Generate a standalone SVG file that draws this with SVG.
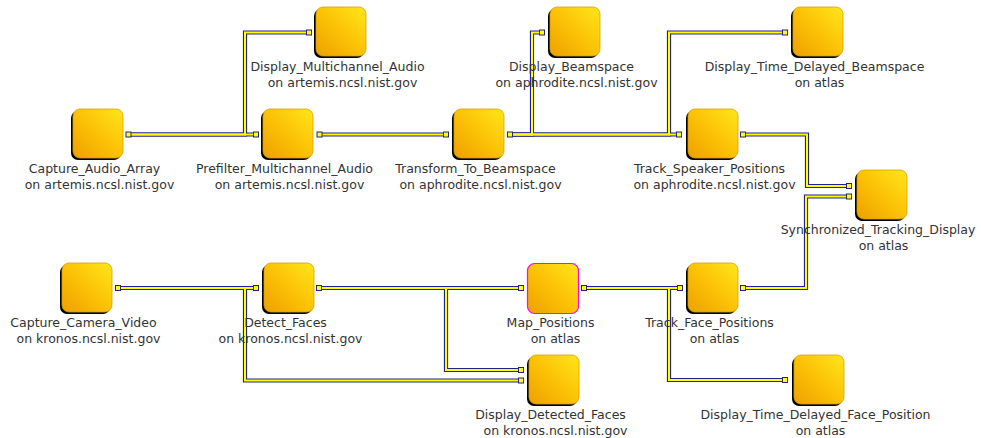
<svg xmlns="http://www.w3.org/2000/svg" xmlns:xlink="http://www.w3.org/1999/xlink" width="981" height="438" viewBox="0 0 981 438">
<style>
.bg{fill:#ffffff}
.sh{fill:#000000}
.body{fill:url(#gold);stroke:#d9a000;stroke-width:0.8}
.sel{fill:url(#gold);stroke:#ff00ff;stroke-width:1.2}
.lbl{font-family:"DejaVu Sans",sans-serif;font-size:12.5px;fill:#333333;text-anchor:middle}
.wo{fill:none;stroke:#22228a;stroke-width:4.2;stroke-linejoin:miter}
.wi{fill:none;stroke:#ffff00;stroke-width:2;stroke-linejoin:miter}
.port{fill:#ffff00;stroke:#22228a;stroke-width:1}
</style>
<defs>
<linearGradient id="gold" x1="1" y1="0" x2="0" y2="1">
<stop offset="0" stop-color="#ffe61a"/>
<stop offset="0.5" stop-color="#fcc206"/>
<stop offset="1" stop-color="#eea000"/>
</linearGradient>
<g id="box">
<rect class="sh" x="0" y="2" width="50" height="49" rx="7"/>
<rect class="body" x="2" y="0" width="50" height="49" rx="7"/>
</g>
<path id="cA" d="M131,134.5H253.5"/>
<path id="cB" d="M131,134.5H245V32.5H306.5"/>
<path id="cC" d="M322,134.5H443.5"/>
<path id="cD" d="M512.5,134.5H676.5"/>
<path id="cE" d="M512.5,134.5H532V32.5H539.5"/>
<path id="cF" d="M512.5,134.5H669V32.5H782.5"/>
<path id="cG" d="M745.5,134.5H807V186H846.5"/>
<path id="cH" d="M745.5,288H806V196.5H846.5"/>
<path id="cI" d="M120.5,288H253.5"/>
<path id="cJ" d="M120.5,288H245V380.5H518.5"/>
<path id="cK" d="M321.5,288H518.5"/>
<path id="cL" d="M321.5,288H446V370H518.5"/>
<path id="cM" d="M586.5,288H677.5"/>
<path id="cN" d="M586.5,288H669V380H782.5"/>
</defs>
<rect class="bg" x="0" y="0" width="981" height="438"/>
<g id="connectors">
<g class="wo">
<use xlink:href="#cA"/><use xlink:href="#cB"/><use xlink:href="#cC"/><use xlink:href="#cD"/><use xlink:href="#cE"/><use xlink:href="#cF"/><use xlink:href="#cG"/><use xlink:href="#cH"/><use xlink:href="#cI"/><use xlink:href="#cJ"/><use xlink:href="#cK"/><use xlink:href="#cL"/><use xlink:href="#cM"/><use xlink:href="#cN"/>
</g>
<g class="wi">
<use xlink:href="#cA"/><use xlink:href="#cB"/><use xlink:href="#cC"/><use xlink:href="#cD"/><use xlink:href="#cE"/><use xlink:href="#cF"/><use xlink:href="#cG"/><use xlink:href="#cH"/><use xlink:href="#cI"/><use xlink:href="#cJ"/><use xlink:href="#cK"/><use xlink:href="#cL"/><use xlink:href="#cM"/><use xlink:href="#cN"/>
</g>
<g class="port">
<rect x="126" y="132" width="5" height="5"/>
<rect x="253.5" y="132" width="5" height="5"/>
<rect x="317" y="132" width="5" height="5"/>
<rect x="306.5" y="30" width="5" height="5"/>
<rect x="443.5" y="132" width="5" height="5"/>
<rect x="507.5" y="132" width="5" height="5"/>
<rect x="539.5" y="30" width="5" height="5"/>
<rect x="782.5" y="30" width="5" height="5"/>
<rect x="676.5" y="132" width="5" height="5"/>
<rect x="740.5" y="132" width="5" height="5"/>
<rect x="846.5" y="183.5" width="5" height="5"/>
<rect x="846.5" y="194" width="5" height="5"/>
<rect x="115.5" y="285.5" width="5" height="5"/>
<rect x="253.5" y="285.5" width="5" height="5"/>
<rect x="316.5" y="285.5" width="5" height="5"/>
<rect x="518.5" y="285.5" width="5" height="5"/>
<rect x="581.5" y="285.5" width="5" height="5"/>
<rect x="677.5" y="285.5" width="5" height="5"/>
<rect x="740.5" y="285.5" width="5" height="5"/>
<rect x="518.5" y="367.5" width="5" height="5"/>
<rect x="518.5" y="378" width="5" height="5"/>
<rect x="782.5" y="377.5" width="5" height="5"/>
</g>
</g>
<g id="Capture_Audio_Array" transform="translate(71,109)">
<use xlink:href="#box"/>
<text class="lbl" x="23.5" y="64.3">Capture_Audio_Array</text>
<text class="lbl" x="28.5" y="80.3">on artemis.ncsl.nist.gov</text>
</g>
<g id="Prefilter_Multichannel_Audio" transform="translate(261,109)">
<use xlink:href="#box"/>
<text class="lbl" x="23.5" y="64.3">Prefilter_Multichannel_Audio</text>
<text class="lbl" x="28.5" y="80.3">on artemis.ncsl.nist.gov</text>
</g>
<g id="Display_Multichannel_Audio" transform="translate(314,7)">
<use xlink:href="#box"/>
<text class="lbl" x="23.5" y="64.3">Display_Multichannel_Audio</text>
<text class="lbl" x="28.5" y="80.3">on artemis.ncsl.nist.gov</text>
</g>
<g id="Transform_To_Beamspace" transform="translate(452,109)">
<use xlink:href="#box"/>
<text class="lbl" x="23.5" y="64.3">Transform_To_Beamspace</text>
<text class="lbl" x="28.5" y="80.3">on aphrodite.ncsl.nist.gov</text>
</g>
<g id="Display_Beamspace" transform="translate(548,7)">
<use xlink:href="#box"/>
<text class="lbl" x="23.5" y="64.3">Display_Beamspace</text>
<text class="lbl" x="28.5" y="80.3">on aphrodite.ncsl.nist.gov</text>
</g>
<g id="Display_Time_Delayed_Beamspace" transform="translate(791,7)">
<use xlink:href="#box"/>
<text class="lbl" x="23.5" y="64.3">Display_Time_Delayed_Beamspace</text>
<text class="lbl" x="28.5" y="80.3">on atlas</text>
</g>
<g id="Track_Speaker_Positions" transform="translate(686,109)">
<use xlink:href="#box"/>
<text class="lbl" x="23.5" y="64.3">Track_Speaker_Positions</text>
<text class="lbl" x="28.5" y="80.3">on aphrodite.ncsl.nist.gov</text>
</g>
<g id="Synchronized_Tracking_Display" transform="translate(855,170)">
<use xlink:href="#box"/>
<text class="lbl" x="23" y="64.3">Synchronized_Tracking_Display</text>
<text class="lbl" x="28.5" y="80.3">on atlas</text>
</g>
<g id="Capture_Camera_Video" transform="translate(60,263)">
<use xlink:href="#box"/>
<text class="lbl" x="23.5" y="64.3">Capture_Camera_Video</text>
<text class="lbl" x="28.5" y="80.3">on kronos.ncsl.nist.gov</text>
</g>
<g id="Detect_Faces" transform="translate(262,263)">
<use xlink:href="#box"/>
<text class="lbl" x="23.5" y="64.3">Detect_Faces</text>
<text class="lbl" x="28.5" y="80.3">on kronos.ncsl.nist.gov</text>
</g>
<g id="Map_Positions" transform="translate(527,263)">
<rect class="sel" x="0.5" y="0.5" width="51" height="50" rx="7"/>
<text class="lbl" x="23.5" y="64.3">Map_Positions</text>
<text class="lbl" x="28.5" y="80.3">on atlas</text>
</g>
<g id="Track_Face_Positions" transform="translate(686,263)">
<use xlink:href="#box"/>
<text class="lbl" x="23.5" y="64.3">Track_Face_Positions</text>
<text class="lbl" x="28.5" y="80.3">on atlas</text>
</g>
<g id="Display_Detected_Faces" transform="translate(527,355)">
<use xlink:href="#box"/>
<text class="lbl" x="23.5" y="64.3">Display_Detected_Faces</text>
<text class="lbl" x="28.5" y="80.3">on kronos.ncsl.nist.gov</text>
</g>
<g id="Display_Time_Delayed_Face_Position" transform="translate(792,355)">
<use xlink:href="#box"/>
<text class="lbl" x="23.5" y="64.3">Display_Time_Delayed_Face_Position</text>
<text class="lbl" x="28.5" y="80.3">on atlas</text>
</g>
</svg>
